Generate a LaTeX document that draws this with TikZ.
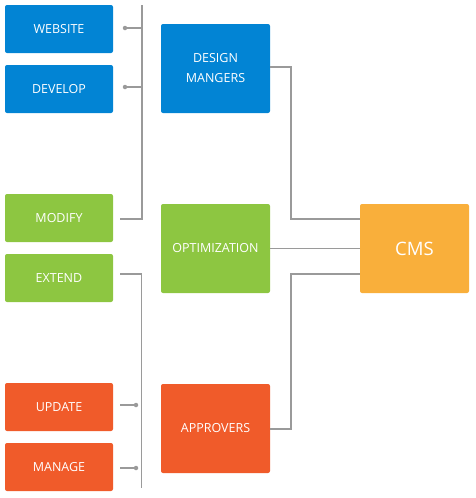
\documentclass[tikz,border=0pt]{standalone}
\usepackage{fontspec}
\setmainfont{Open Sans}
\definecolor{cblue}{HTML}{0284D4}
\definecolor{cgreen}{HTML}{8DC641}
\definecolor{corange}{HTML}{F9AF3B}
\definecolor{cred}{HTML}{F05B2A}
\definecolor{cline}{HTML}{9A9A9A}
\begin{document}
\begin{tikzpicture}[x=1pt,y=-1pt,
  box/.style={rounded corners=2pt,text=white,font=\fontsize{12.5}{20}\selectfont,align=center,inner sep=0pt},
  conn/.style={draw=cline,line width=1.1pt},
  dotc/.style={circle,fill=cline,inner sep=0pt,minimum size=4.5pt}]
\useasboundingbox (0,0) rectangle (475,498);
% left boxes
\node[box,fill=cblue,minimum width=108pt,minimum height=48pt] (web) at (59,29) {WEBSITE};
\node[box,fill=cblue,minimum width=108pt,minimum height=48pt] (dev) at (59,89) {DEVELOP};
\node[box,fill=cgreen,minimum width=108pt,minimum height=48pt] (mod) at (59,218) {MODIFY};
\node[box,fill=cgreen,minimum width=108pt,minimum height=48pt] (ext) at (59,278) {EXTEND};
\node[box,fill=cred,minimum width=108pt,minimum height=48pt] (upd) at (59,407) {UPDATE};
\node[box,fill=cred,minimum width=108pt,minimum height=48pt] (man) at (59,467) {MANAGE};
% middle boxes
\node[box,fill=cblue,minimum width=109pt,minimum height=89pt] (des) at (215.5,68.5) {DESIGN\\MANGERS};
\node[box,fill=cgreen,minimum width=109pt,minimum height=89pt] (opt) at (215.5,248.5) {OPTIMIZATION};
\node[box,fill=cred,minimum width=109pt,minimum height=89pt] (app) at (215.5,428.5) {APPROVERS};
% CMS
\node[box,fill=corange,minimum width=109pt,minimum height=89pt,font=\fontsize{18.5}{22}\selectfont] (cms) at (414.5,248.5) {CMS};
% top bracket
\coordinate (t1) at (142,5);
\coordinate (t2) at (142,219);
\coordinate (m1) at (120,219);
\node[dotc] (d1) at (125,28) {};
\node[dotc] (d2) at (125,87) {};
\draw[conn] (t1) -- (t2) -- (m1);
\draw[conn] (d1) -- (d1 -| t1);
\draw[conn] (d2) -- (d2 -| t1);
% bottom bracket
\coordinate (b1) at (141.5,274);
\coordinate (b2) at (141.5,488);
\coordinate (e1) at (120,274);
\draw[conn] (e1) -- (b1) -- (b2);
\node[dotc] (d3) at (136,405) {};
\node[dotc] (d4) at (136,468) {};
\coordinate (u1) at (120,405);
\coordinate (u2) at (120,468);
\draw[conn] (u1) -- (d3);
\draw[conn] (u2) -- (d4);
% right connectors
\coordinate (r1) at (291,67);
\coordinate (r2) at (291,219);
\draw[conn] (des.east |- r1) -- (r1) -- (r2) -- (cms.west |- r2);
\draw[conn] (opt.east) -- (cms.west);
\coordinate (r3) at (291,429);
\coordinate (r4) at (291,274);
\draw[conn] (app.east |- r3) -- (r3) -- (r4) -- (cms.west |- r4);
\end{tikzpicture}
\end{document}
